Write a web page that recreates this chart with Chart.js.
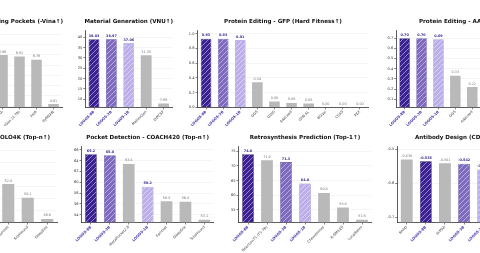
<!DOCTYPE html>
<html lang="en">
<head>
<meta charset="UTF-8">
<title>LOGOS benchmark panels</title>
<script src="https://cdn.jsdelivr.net/npm/chart.js@4.4.1/dist/chart.umd.min.js"></script>
<style>
  html, body { margin: 0; padding: 0; background: #fff; }
  body { width: 480px; height: 253px; overflow: hidden; position: relative; }
  canvas { position: absolute; }
</style>
</head>
<body>
<canvas id="c1"></canvas>
<canvas id="c2"></canvas>
<canvas id="c3"></canvas>
<canvas id="c4"></canvas>
<canvas id="c5"></canvas>
<canvas id="c6"></canvas>
<canvas id="c7"></canvas>
<canvas id="c8"></canvas>

<script>
// ---- data ----
const pocketGenLabels = ['RFdiffusionAA', 'PocketGen (2.7B)', 'FAIR', 'dyMEAN'];
const pocketGenVals = [6.99, 6.91, 6.76, 4.61];

const materialLabels = ['LOGOS-8B', 'LOGOS-3B', 'LOGOS-1B', 'MatterGen', 'DiffCSP'];
const materialVals = [39.03, 38.97, 37.06, 31.35, 7.95];

const gfpLabels = ['LOGOS-8B', 'LOGOS-3B', 'LOGOS-1B', 'GGS', 'GWG', 'AdaLead', 'GFN-AL', 'BOqei', 'CbAS', 'PEX'];
const gfpVals = [0.93, 0.93, 0.91, 0.34, 0.08, 0.06, 0.05, 0.00, 0.00, 0.00];

const aavLabels = ['LOGOS-8B', 'LOGOS-3B', 'LOGOS-1B', 'GGS', 'AdaLead'];
const aavVals = [0.70, 0.70, 0.69, 0.33, 0.22];

const holoLabels = ['Fpocket', 'SiteHound', 'DeepSite'];
const holoVals = [52.4, 50.1, 46.6];

const coachLabels = ['LOGOS-8B', 'LOGOS-3B', 'MetaPocket2.0', 'LOGOS-1B', 'Fpocket', 'DeepSite', 'SiteHound'];
const coachVals = [65.2, 65.0, 63.4, 59.2, 56.5, 56.4, 53.1];

const retroLabels = ['LOGOS-8B', 'ReactionT5 (T5-7B)', 'LOGOS-3B', 'LOGOS-1B', 'Chemformer', 'R-SMILES', 'LocalRetro'];
const retroVals = [74.0, 71.9, 71.3, 64.0, 60.8, 55.8, 51.6];

const abLabels = ['RAbD', 'LOGOS-8B', 'DiffAb', 'LOGOS-3B', 'LOGOS-1B'];
const abVals = [-0.530, -0.535, -0.541, -0.542, -0.559];

// ---- look ----
const FONT = '"DejaVu Sans", sans-serif';
const GRAY = '#b9b9b9';
const PURPLE_TXT = '#3b2a8f';

function hatch(fill) {
  const s = 5;
  const p = document.createElement('canvas');
  p.width = s; p.height = s;
  const g = p.getContext('2d');
  g.fillStyle = fill;
  g.fillRect(0, 0, s, s);
  g.strokeStyle = 'rgba(255,255,255,0.65)';
  g.lineWidth = 0.7;
  g.beginPath();
  g.moveTo(-1, s + 1); g.lineTo(s + 1, -1);
  g.moveTo(-1, 1); g.lineTo(1, -1);
  g.moveTo(s - 1, s + 1); g.lineTo(s + 1, s - 1);
  g.stroke();
  return g.createPattern(p, 'repeat');
}

const logosFill = {
  'LOGOS-8B': hatch('#3b2192'),
  'LOGOS-3B': hatch('#7e6bc0'),
  'LOGOS-1B': hatch('#bcaee8')
};
const logosEdge = { 'LOGOS-8B': '#24125e', 'LOGOS-3B': '#4e3c93', 'LOGOS-1B': '#8f7fc6' };
const isLogos = n => n.startsWith('LOGOS');

// rows: where the plot areas sit on the page
const TOP = { top: 0, h: 126, areaTop: 30, areaBottom: 107.3, titleY: 22 };
const BOT = { top: 126, h: 127, areaTop: 146, areaBottom: 222.5, titleY: 137.7 };

const panels = [
  { id: 'c1', row: TOP, left: -6, right: 62, labels: pocketGenLabels, values: pocketGenVals,
    min: 4.45, max: 8.2, step: 0.5, dec: 2, tickDec: 1,
    title: 'Generating Pockets (-Vina↑)', titleAlign: 'right', titleX: 63 },
  { id: 'c2', row: TOP, left: 85.3, right: 172.3, labels: materialLabels, values: materialVals,
    min: 6.13, max: 43.5, step: 5, dec: 2, tickDec: 0,
    title: 'Material Generation (VNU↑)' },
  { id: 'c3', row: TOP, left: 197.5, right: 368.5, labels: gfpLabels, values: gfpVals,
    min: 0, max: 1.05, step: 0.2, dec: 2, tickDec: 1,
    title: 'Protein Editing - GFP (Hard Fitness↑)' },
  { id: 'c4', row: TOP, left: 396.2, right: 480.7, labels: aavLabels, values: aavVals,
    min: 0.021, max: 0.78, step: 0.1, dec: 2, tickDec: 1,
    title: 'Protein Editing - AAV (Hard Fitness↑)', titleAlign: 'left', titleX: 419 },
  { id: 'c5', row: BOT, left: -1.5, right: 57, labels: holoLabels, values: holoVals,
    min: 46, max: 58.7, step: 2, dec: 1, tickDec: 0,
    title: 'Pocket Detection - HOLO4K (Top-n↑)', titleAlign: 'right', titleX: 50 },
  { id: 'c6', row: BOT, left: 81.5, right: 213.8, labels: coachLabels, values: coachVals,
    min: 52.58, max: 66.7, step: 2, dec: 1, tickDec: 0,
    title: 'Pocket Detection - COACH420 (Top-n↑)' },
  { id: 'c7', row: BOT, left: 238.5, right: 371.5, labels: retroLabels, values: retroVals,
    min: 50.7, max: 76.8, step: 5, dec: 1, tickDec: 0,
    title: 'Retrosynthesis Prediction (Top-1↑)' },
  { id: 'c8', row: BOT, left: 397.2, right: 492.7, labels: abLabels, values: abVals,
    min: -0.7147, max: -0.49, step: 0.1, dec: 3, tickDec: 1,
    title: 'Antibody Design (CDR-H3 ΔG↑)', titleAlign: 'left', titleX: 415 }
];

function makePanel(p) {
  const cv = document.getElementById(p.id);
  const L = Math.floor(p.left) - 14;
  const YW = p.left - L;
  const W = Math.ceil(p.right + 1 - L);
  const row = p.row;
  const XH = row.top + row.h - row.areaBottom;
  cv.width = W;
  cv.height = row.h;
  cv.style.left = L + 'px';
  cv.style.top = row.top + 'px';

  // panel title, placed on the page like the figure's axes titles
  const titlePlugin = {
    id: 'panelTitle',
    afterDraw(chart) {
      const ctx = chart.ctx;
      const a = chart.chartArea;
      ctx.save();
      ctx.font = 'bold 5.6px ' + FONT;
      ctx.fillStyle = '#111';
      ctx.textBaseline = 'middle';
      let x = (a.left + a.right) / 2;
      ctx.textAlign = 'center';
      if (p.titleAlign) {
        ctx.textAlign = p.titleAlign;
        x = p.titleX - L;
      }
      ctx.fillText(p.title, x, row.titleY - row.top);
      ctx.restore();
    }
  };

  // numbers above the bars
  const labelPlugin = {
    id: 'barValues',
    afterDatasetsDraw(chart) {
      const ctx = chart.ctx;
      ctx.save();
      ctx.textAlign = 'center';
      ctx.textBaseline = 'bottom';
      chart.getDatasetMeta(0).data.forEach((bar, i) => {
        const lg = isLogos(p.labels[i]);
        ctx.font = (lg ? 'bold ' : '') + '3.4px ' + FONT;
        ctx.fillStyle = lg ? PURPLE_TXT : '#777';
        ctx.fillText(p.values[i].toFixed(p.dec), bar.x, bar.y - 1.6);
      });
      ctx.restore();
    }
  };

  return new Chart(cv, {
    type: 'bar',
    data: {
      labels: p.labels,
      datasets: [{
        data: p.values,
        base: p.min,
        backgroundColor: p.labels.map(n => logosFill[n] || GRAY),
        borderColor: p.labels.map(n => logosEdge[n] || GRAY),
        borderWidth: p.labels.map(n => isLogos(n) ? 0.6 : 0),
        barPercentage: 0.62,
        categoryPercentage: 1
      }]
    },
    options: {
      responsive: false,
      animation: false,
      events: [],
      layout: { padding: { left: 0, right: L + W - p.right, top: row.areaTop - row.top, bottom: 0 } },
      plugins: { legend: { display: false }, tooltip: { enabled: false }, title: { display: false } },
      scales: {
        x: {
          offset: true,
          grid: { display: true, drawOnChartArea: false, drawTicks: true, tickLength: 2,
                  tickColor: '#333', tickWidth: 0.6, offset: false },
          border: { display: true, color: '#333', width: 0.8 },
          ticks: {
            autoSkip: false, minRotation: 45, maxRotation: 45, padding: 0.5,
            font: c => ({ family: FONT, size: 3.6, weight: isLogos(p.labels[c.index] || '') ? 'bold' : 'normal' }),
            color: c => isLogos(p.labels[c.index] || '') ? '#4a35a8' : '#444'
          },
          afterFit(s) { s.height = XH; s.paddingLeft = 0; s.paddingRight = 0; }
        },
        y: {
          min: p.min,
          max: p.max,
          grid: { color: 'rgba(0,0,0,0.08)', lineWidth: 0.5, tickLength: 2, tickColor: '#333', tickWidth: 0.6 },
          border: { display: true, color: '#333', width: 0.8 },
          ticks: {
            stepSize: p.step, includeBounds: false, padding: 1,
            font: { family: FONT, size: 3.6 }, color: '#333',
            callback: v => Number(v).toFixed(p.tickDec)
          },
          afterFit(s) { s.width = YW; s.paddingTop = 0; s.paddingBottom = 0; }
        }
      }
    },
    plugins: [titlePlugin, labelPlugin]
  });
}

panels.forEach(makePanel);
</script>
</body>
</html>
